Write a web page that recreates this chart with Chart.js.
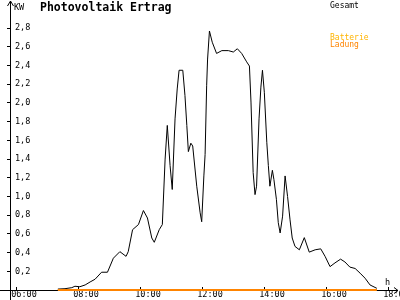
<!DOCTYPE html>
<html>
<head>
<meta charset="utf-8">
<script src="https://cdn.jsdelivr.net/npm/chart.js@4/dist/chart.umd.min.js"></script>
<style>
html,body{margin:0;padding:0;background:#fff;}
canvas{display:block;}
</style>
</head>
<body>
<canvas id="c" width="400" height="300"></canvas>
<script>
// ---- data ----
const chartTitle = "Photovoltaik Ertrag";
const yUnit = "KW";
const xUnit = "h";

// time of day in hours, total output (kW)
const gesamtTimes = [
  7.35, 7.58, 7.80, 7.90, 8.06, 8.23, 8.39, 8.55, 8.76, 8.95,
  9.14, 9.35, 9.55, 9.62, 9.76, 9.95, 10.11, 10.24, 10.38, 10.46,
  10.62, 10.72, 10.81, 10.88, 10.97, 11.04, 11.13, 11.20, 11.26, 11.38,
  11.45, 11.51, 11.56, 11.64, 11.70, 11.83, 11.94, 11.99, 12.06, 12.10,
  12.15, 12.18, 12.24, 12.33, 12.47, 12.64, 12.85, 13.01, 13.14, 13.28,
  13.44, 13.53, 13.58, 13.65, 13.71, 13.76, 13.84, 13.90, 13.95, 14.01,
  14.09, 14.14, 14.19, 14.27, 14.32, 14.40, 14.46, 14.52, 14.60, 14.68,
  14.76, 14.84, 14.91, 15.00, 15.14, 15.30, 15.46, 15.65, 15.83, 15.97,
  16.13, 16.29, 16.47, 16.61, 16.77, 16.94, 17.10, 17.26, 17.42, 17.64
];
const gesamtValues = [
  0.01, 0.014, 0.025, 0.04, 0.035, 0.054, 0.086, 0.115, 0.19, 0.19,
  0.34, 0.41, 0.36, 0.41, 0.645, 0.70, 0.85, 0.77, 0.556, 0.51,
  0.645, 0.70, 1.40, 1.76, 1.33, 1.075, 1.83, 2.15, 2.35, 2.35,
  2.08, 1.76, 1.48, 1.57, 1.54, 1.11, 0.825, 0.73, 1.22, 1.45,
  2.19, 2.47, 2.77, 2.65, 2.53, 2.56, 2.56, 2.545, 2.58, 2.53,
  2.44, 2.395, 2.01, 1.255, 1.02, 1.11, 1.83, 2.17, 2.35, 2.115,
  1.58, 1.33, 1.11, 1.28, 1.18, 0.97, 0.72, 0.61, 0.79, 1.22,
  1.00, 0.75, 0.556, 0.466, 0.43, 0.56, 0.405, 0.43, 0.44, 0.36,
  0.25, 0.29, 0.33, 0.30, 0.245, 0.23, 0.18, 0.126, 0.054, 0.018
];

// battery series (no visible values) and charging series (flat at zero)
const batterieTimes = [];
const batterieValues = [];
const ladungTimes = [7.35, 17.64];
const ladungValues = [0, 0];

const seriesLabels = ["Gesamt", "Batterie", "Ladung"];

// axis ticks
const xTickValues = [6, 8, 10, 12, 14, 16, 18];
const xTickLabels = ["06:00", "08:00", "10:00", "12:00", "14:00", "16:00", "18:00"];
const yTickValues = [0.2, 0.4, 0.6, 0.8, 1.0, 1.2, 1.4, 1.6, 1.8, 2.0, 2.2, 2.4, 2.6, 2.8];
const yTickLabels = ["0,2", "0,4", "0,6", "0,8", "1,0", "1,2", "1,4", "1,6", "1,8", "2,0", "2,2", "2,4", "2,6", "2,8"];

// ---- build chart ----
const toPoints = (xs, ys) => xs.map((x, i) => ({ x: x, y: ys[i] }));

const FONT = "'DejaVu Sans Mono', 'Liberation Mono', monospace";
Chart.defaults.font.family = FONT;
Chart.defaults.font.size = 8.5;
Chart.defaults.color = '#000';

const decorations = {
  id: 'decorations',
  afterDraw(chart) {
    const ctx = chart.ctx;
    const a = chart.chartArea;
    const ax = Math.round(a.left) + 0.5;
    const ay = Math.round(a.bottom) + 0.5;
    ctx.save();
    ctx.strokeStyle = '#000';
    ctx.lineWidth = 1;
    // axis extensions and arrows
    ctx.beginPath();
    ctx.moveTo(ax, a.top - 1);
    ctx.lineTo(ax, chart.height);
    ctx.moveTo(0, ay);
    ctx.lineTo(a.right + 2, ay);
    // y arrow
    ctx.moveTo(ax - 3, a.top + 4);
    ctx.lineTo(ax, a.top - 1);
    ctx.lineTo(ax + 3, a.top + 4);
    // x arrow
    ctx.moveTo(a.right - 2, ay - 3);
    ctx.lineTo(a.right + 2, ay);
    ctx.lineTo(a.right - 2, ay + 3);
    ctx.stroke();

    // redraw charging line on top of the axis
    const meta = chart.getDatasetMeta(2);
    if (meta && meta.data.length) {
      ctx.strokeStyle = chart.data.datasets[2].borderColor;
      ctx.lineWidth = 2;
      ctx.beginPath();
      ctx.moveTo(meta.data[0].x, ay - 0.5);
      ctx.lineTo(meta.data[meta.data.length - 1].x, ay - 0.5);
      ctx.stroke();
    }

    // title
    ctx.fillStyle = '#000';
    ctx.textBaseline = 'alphabetic';
    ctx.textAlign = 'left';
    ctx.font = "bold 11.5px " + FONT;
    ctx.fillText(chartTitle, 40, 11);

    // units
    ctx.font = "8.5px " + FONT;
    ctx.fillText(yUnit, 14, 10);
    ctx.fillText(xUnit, 385, 285);

    // legend
    ctx.font = "8px " + FONT;
    const ds = chart.data.datasets;
    const legendY = [8, 39.5, 47];
    ds.forEach((d, i) => {
      ctx.fillStyle = d.legendColor || d.borderColor;
      ctx.fillText(d.label, 330, legendY[i]);
    });
    ctx.restore();
  }
};

new Chart(document.getElementById('c'), {
  type: 'line',
  data: {
    datasets: [
      {
        label: seriesLabels[0],
        data: toPoints(gesamtTimes, gesamtValues),
        borderColor: '#000000',
        borderWidth: 1,
        pointRadius: 0,
        tension: 0,
        fill: false,
        order: 1
      },
      {
        label: seriesLabels[1],
        data: toPoints(batterieTimes, batterieValues),
        borderColor: '#FFB400',
        borderWidth: 2,
        pointRadius: 0,
        tension: 0,
        fill: false,
        order: 3
      },
      {
        label: seriesLabels[2],
        data: toPoints(ladungTimes, ladungValues),
        borderColor: '#FF8400',
        borderWidth: 2,
        pointRadius: 0,
        tension: 0,
        fill: false,
        order: 2
      }
    ]
  },
  options: {
    responsive: false,
    animation: false,
    devicePixelRatio: 1,
    layout: { padding: { left: 7, right: 4, top: 2, bottom: 0 } },
    plugins: {
      legend: { display: false },
      title: { display: false },
      tooltip: { enabled: false }
    },
    scales: {
      x: {
        type: 'linear',
        min: 5.806,
        max: 18.258,
        afterBuildTicks: (s) => { s.ticks = xTickValues.map(v => ({ value: v })); },
        afterFit: (s) => { s.height = 10; s.paddingLeft = 0; s.paddingRight = 0; },
        ticks: {
          autoSkip: false,
          maxRotation: 0,
          padding: 3,
          labelOffset: 8,
          font: { size: 8.5 },
          color: '#000',
          callback: (v) => { const i = xTickValues.indexOf(v); return i >= 0 ? xTickLabels[i] : ''; }
        },
        grid: { drawOnChartArea: false, drawTicks: true, tickLength: -3, color: '#000' },
        border: { display: true, color: '#000', width: 1 }
      },
      y: {
        type: 'linear',
        min: 0,
        max: 3.08,
        afterBuildTicks: (s) => { s.ticks = yTickValues.map(v => ({ value: v })); },
        afterFit: (s) => { s.width = 3; s.paddingTop = 0; s.paddingBottom = 0; },
        ticks: {
          mirror: true,
          padding: 5,
          autoSkip: false,
          font: { size: 8.5 },
          color: '#000',
          callback: (v) => { const i = yTickValues.findIndex(t => Math.abs(t - v) < 1e-6); return i >= 0 ? yTickLabels[i] : ''; }
        },
        grid: { drawOnChartArea: false, drawTicks: true, tickLength: 3, color: '#000' },
        border: { display: true, color: '#000', width: 1 }
      }
    }
  },
  plugins: [decorations]
});
</script>
</body>
</html>
